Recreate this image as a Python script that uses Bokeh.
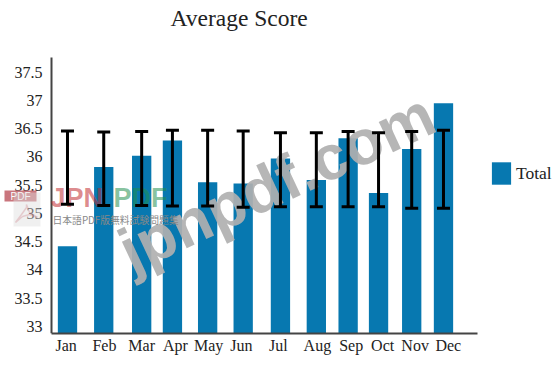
from bokeh.embed import file_html
from bokeh.resources import INLINE
from bokeh.plotting import figure
from bokeh.models import (ColumnDataSource, Whisker, TeeHead, Legend, LegendItem,
                          Range1d, FixedTicker, Label, BoxAnnotation, PolyAnnotation)

months = ["Jan", "Feb", "Mar", "Apr", "May", "Jun", "Jul", "Aug", "Sep", "Oct", "Nov", "Dec"]
month_pos = [1.0, 2.06, 3.17, 4.07, 5.10, 6.14, 7.23, 8.28, 9.21, 10.10, 11.07, 12.0]
label_pos = [0.96, 2.08, 3.17, 4.16, 5.13, 6.09, 7.17, 8.31, 9.30, 10.22, 11.17, 12.14]
totals = [34.42, 35.82, 36.02, 36.29, 35.55, 35.53, 35.97, 35.59, 36.33, 35.36, 36.14, 36.95]
err_upper = [36.46, 36.44, 36.45, 36.47, 36.47, 36.46, 36.43, 36.43, 36.45, 36.43, 36.45, 36.47]
err_lower = [35.16, 35.14, 35.14, 35.13, 35.13, 35.11, 35.12, 35.12, 35.12, 35.12, 35.09, 35.09]
y_ticks = [33, 33.5, 34, 34.5, 35, 35.5, 36, 36.5, 37, 37.5]
y_labels = ["33", "33.5", "34", "34.5", "35", "35.5", "36", "36.5", "37", "37.5"]

SERIF = "Liberation Serif"
BLUE = "#0778b0"
Y0, Y1 = 32.874, 37.76
X_AXIS_START, X_AXIS_END = 0.532, 12.995

src = ColumnDataSource(dict(x=month_pos, top=totals, upper=err_upper, lower=err_lower,
                            bottom=[Y0] * len(months)))

p = figure(width=555, height=360, output_backend="svg", toolbar_location=None,
           frame_width=555, frame_height=303,
           x_range=Range1d(-0.960, 15.277), y_range=Range1d(Y0, 38.238),
           min_border_left=0, min_border_right=0, min_border_top=30, min_border_bottom=27,
           title="Average Score")
p.title.text_font = SERIF
p.title.text_font_size = "23.5px"
p.title.text_font_style = "normal"
p.title.text_color = "#222222"
p.title.align = "left"
p.title.offset = 170
p.title.standoff = 0
p.background_fill_color = None
p.border_fill_color = "white"
p.outline_line_color = None
p.grid.visible = False

bars = p.vbar(x="x", width=0.565, top="top", bottom="bottom", source=src, fill_color=BLUE, line_color=None)

p.add_layout(Whisker(source=src, base="x", upper="upper", lower="lower", level="overlay",
                     line_color="black", line_width=3,
                     upper_head=TeeHead(size=13, line_color="black", line_width=3),
                     lower_head=TeeHead(size=13, line_color="black", line_width=3)))

for ax in (p.xaxis[0], p.yaxis[0]):
    ax.axis_line_color = "#444444"
    ax.axis_line_width = 2
    ax.major_tick_line_color = None
    ax.minor_tick_line_color = None
    ax.major_tick_out = 0
    ax.major_tick_in = 0
    ax.minor_tick_out = 0
    ax.major_label_text_font = SERIF
    ax.major_label_text_font_size = "16px"
    ax.major_label_text_color = "#222222"

p.xaxis[0].ticker = FixedTicker(ticks=label_pos)
p.xaxis[0].major_label_overrides = dict(zip(label_pos, months))
p.xaxis[0].major_label_standoff = 3
p.xaxis[0].bounds = (X_AXIS_START, X_AXIS_END)
p.yaxis[0].ticker = FixedTicker(ticks=y_ticks)
p.yaxis[0].major_label_overrides = dict(zip(y_ticks, y_labels))
p.yaxis[0].major_label_standoff = 9
p.yaxis[0].fixed_location = X_AXIS_START
p.yaxis[0].bounds = (Y0, Y1)

legend = Legend(items=[LegendItem(label="Total", renderers=[bars])], location=(489, 146),
                glyph_width=24, glyph_height=28, padding=0, margin=0, spacing=0,
                label_text_font=SERIF, label_text_font_size="17.5px", label_text_color="#222222",
                label_standoff=3, border_line_color=None, background_fill_color=None)
p.add_layout(legend, "center")

# Watermarks baked into the reference image
p.add_layout(BoxAnnotation(left=13, right=40, top=141, bottom=107, left_units="screen",
                           right_units="screen", top_units="screen", bottom_units="screen",
                           fill_color="#dddddd", fill_alpha=0.45, line_color=None, level="overlay"))
p.add_layout(PolyAnnotation(xs=[26, 29, 37, 29, 22, 15, 21, 26], ys=[129, 121, 116, 119, 117, 111, 119, 126],
                            xs_units="screen", ys_units="screen", fill_alpha=0,
                            line_color="#c9757d", line_width=1.5, level="overlay"))
p.add_layout(Label(x=137, y=48, x_units="screen", y_units="screen", text="jpnpdf.com", angle=25,
                   angle_units="deg", text_font="Liberation Sans", text_font_style="bold",
                   text_font_size="63px", text_color="#b0b0b0", text_alpha=0.92))
p.add_layout(Label(x=50, y=121, x_units="screen", y_units="screen", text="JPN",
                   text_font="Liberation Sans", text_font_style="bold", text_font_size="27px",
                   text_color="#c0272d", text_alpha=0.55))
p.add_layout(Label(x=113, y=121, x_units="screen", y_units="screen", text="PDF",
                   text_font="Liberation Sans", text_font_style="bold", text_font_size="27px",
                   text_color="#1f8f4e", text_alpha=0.55))
p.add_layout(Label(x=52, y=107, x_units="screen", y_units="screen", text="日本語PDF版無料試験問題集",
                   text_font="Noto Sans CJK JP", text_font_size="9.8px", text_color="#888888"))
p.add_layout(Label(x=4, y=132, x_units="screen", y_units="screen", text="PDF",
                   text_font="Liberation Sans", text_font_size="10px", text_color="white",
                   background_fill_color="#c9757d", padding=(6, 0)))

open("out.html", "w").write(file_html(p, INLINE))
